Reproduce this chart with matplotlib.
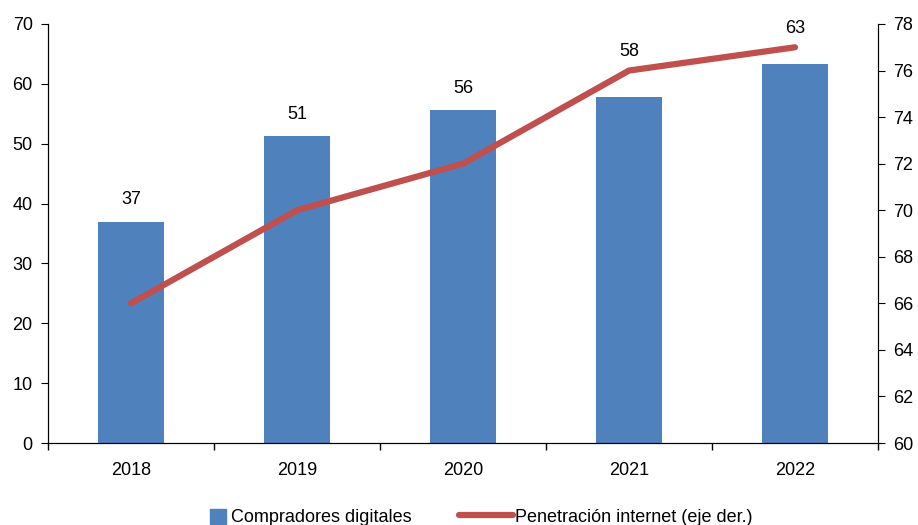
import matplotlib
matplotlib.use('Agg')
import matplotlib.pyplot as plt
import matplotlib.patches as mpatches
from matplotlib.legend_handler import HandlerPatch
import numpy as np

plt.rcParams['font.family'] = ['Liberation Sans', 'DejaVu Sans']

# Datos
anios = ['2018', '2019', '2020', '2021', '2022']
compradores = [37.0, 51.3, 55.6, 57.8, 63.3]
penetracion = [66, 70, 72, 76, 77]

azul = '#4F81BD'
rojo = '#C0504D'

fig = plt.figure(figsize=(9.18, 5.25), dpi=100)
ax = fig.add_axes([48/918, 1 - 443/525, 830/918, 419/525])
ax2 = ax.twinx()

x = np.arange(len(anios))
ax.bar(x, compradores, width=0.4, color=azul, zorder=2)

linea, = ax2.plot(x, penetracion, color=rojo, lw=4.5, solid_capstyle='round',
                  label='Penetración internet (eje der.)')

ax.set_xlim(-0.5, len(anios) - 0.5)
ax.set_ylim(0, 70)
ax.set_yticks(range(0, 71, 10))
ax2.set_ylim(60, 78)
ax2.set_yticks(range(60, 79, 2))

# etiquetas: encima de la barra, o de la linea si esta mas alta
for xi, v, p in zip(x, compradores, penetracion):
    p_izq = (p - 60) / 18 * 70
    base = max(v, p_izq) + 3.6
    if p_izq > v:
        base -= 0.5
    ax2.text(xi, base / 70 * 18 + 60, f'{v:.0f}', ha='center', va='center',
             fontsize=13, zorder=5)

ax.set_xticks(x)
ax.set_xticklabels(anios)
ax.set_xticks(np.arange(-0.5, len(anios), 1), minor=True)
ax.tick_params(axis='x', which='major', length=0, pad=14, labelsize=13)
ax.tick_params(axis='x', which='minor', length=5, direction='out', width=1)
ax.tick_params(axis='y', length=5, direction='out', labelsize=13, pad=6)
ax2.tick_params(axis='y', length=5, direction='out', labelsize=13, pad=6)

ax.spines['top'].set_visible(False)
ax2.spines['top'].set_visible(False)


def cuadrado(legend, orig_handle, xdescent, ydescent, width, height, fontsize):
    lado = height * 1.2
    return mpatches.Rectangle((width - lado - 2, (height - lado) / 2 - 1), lado, lado)


caja = mpatches.Patch(color=azul, label='Compradores digitales')
fig.legend(handles=[caja, linea], loc='lower center', bbox_to_anchor=(0.505, -0.032),
           ncol=2, frameon=False, fontsize=13, handlelength=3.0, columnspacing=2.6,
           handletextpad=0.15, handler_map={mpatches.Patch: HandlerPatch(patch_func=cuadrado)})

fig.savefig('out.png', dpi=100)
